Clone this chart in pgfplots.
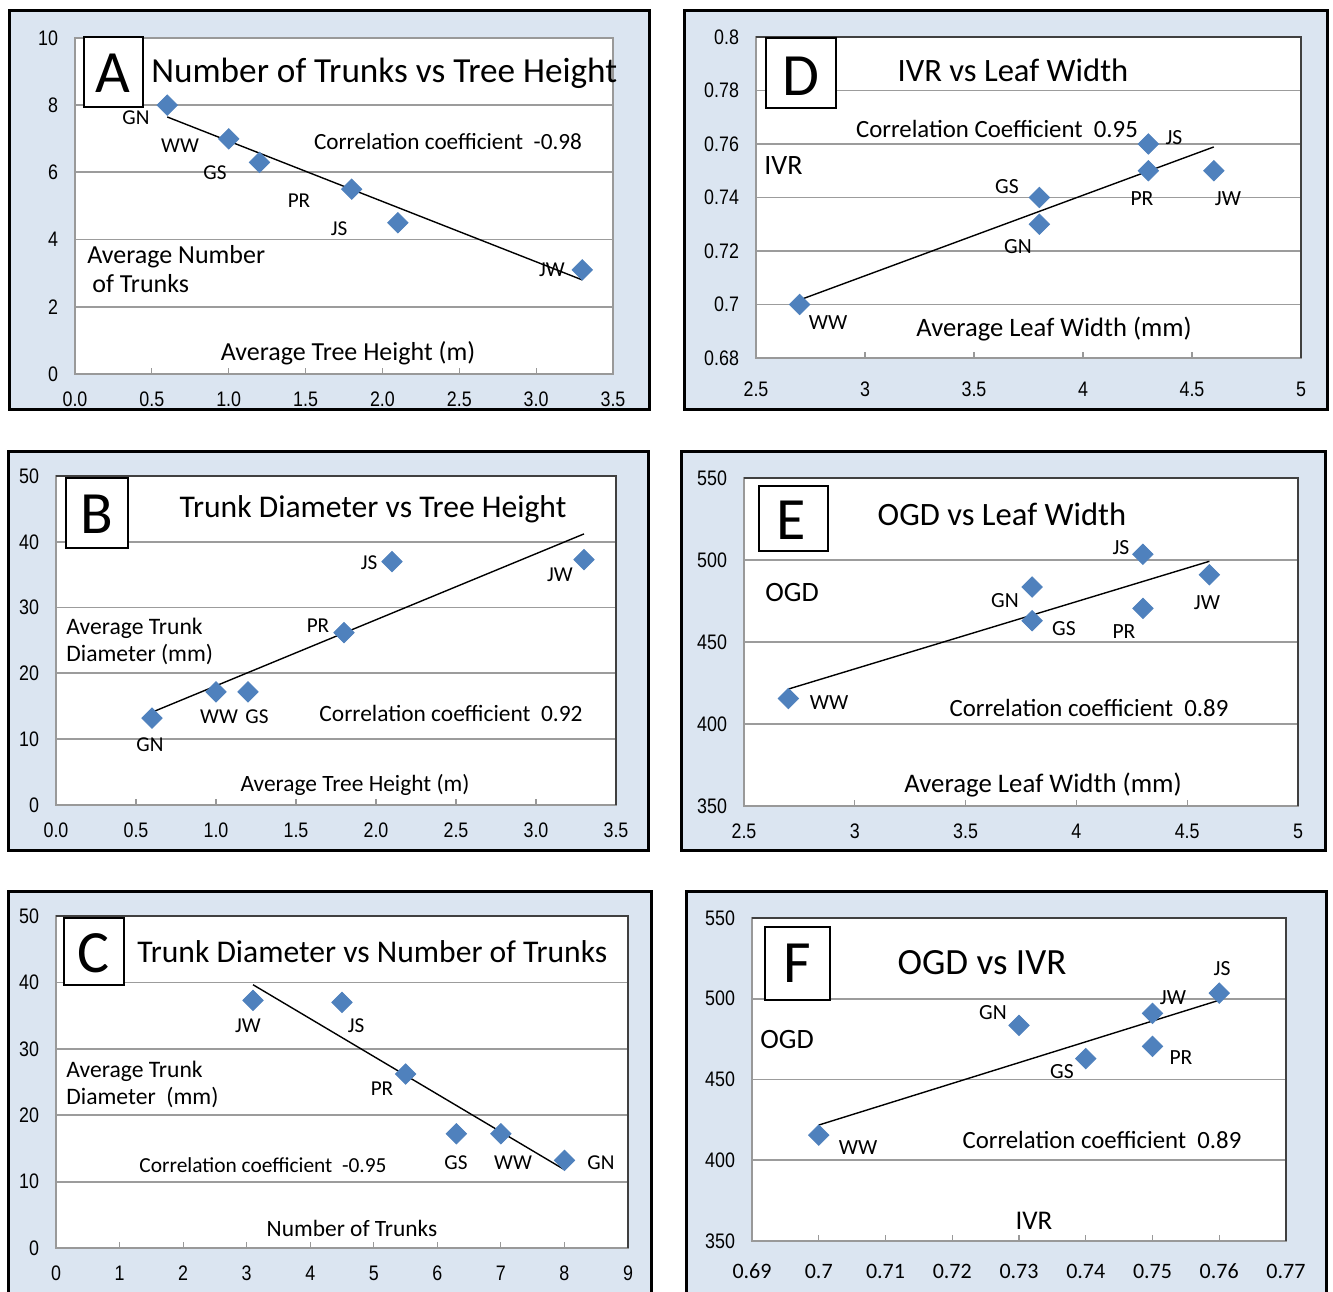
\documentclass[border=0pt]{standalone}
\usepackage{pgfplots}
\pgfplotsset{compat=1.18}
\usepackage{fontspec}
\setmainfont{Carlito}
\newfontfamily\tickfont{Liberation Sans}[FakeStretch=0.85]
\definecolor{panelbg}{HTML}{DBE5F1}
\definecolor{markblue}{HTML}{4F81BD}
\definecolor{gridgray}{HTML}{9C9C9C}
\newcommand{\fs}[1]{\fontsize{#1}{#1}\selectfont}
\pgfplotsset{
  panel/.style={
    scale only axis, anchor=south west, clip=false,
    axis background/.style={fill=white},
    axis line style={draw=gray!80, line width=0.6pt},
    ymajorgrids, grid style={draw=gridgray, line width=0.9pt},
    xtick pos=bottom, ytick pos=left,
    tick align=inside, major tick length=3pt,
    xtick style={draw=gray!80, line width=0.6pt},
    ytick style={draw=none},
    tick label style={font=\tickfont\fs{10.5}},
    yticklabel style={xshift=-5pt},
    xticklabel style={yshift=-5.5pt},
  },
  dia/.style={only marks, mark=square*, mark size=3.6pt,
    mark options={rotate=45, fill=markblue, draw=markblue}, color=markblue},
  trend/.style={black, line width=0.7pt, no marks},
}
\begin{document}
\begin{tikzpicture}[x=0.5pt,y=0.5pt]
\clip (0,0) rectangle (1333,1291);
\fill[white] (0,0) rectangle (1333,1291);
% panel backgrounds
\filldraw[fill=panelbg, draw=black, line width=1.5pt] (9,1291-11) rectangle (649,1291-410);
\filldraw[fill=panelbg, draw=black, line width=1.5pt] (684,1291-11) rectangle (1327,1291-410);
\filldraw[fill=panelbg, draw=black, line width=1.5pt] (8,1291-452) rectangle (648,1291-851);
\filldraw[fill=panelbg, draw=black, line width=1.5pt] (681,1291-452) rectangle (1325,1291-851);
\filldraw[fill=panelbg, draw=black, line width=1.5pt] (8,1291-892) rectangle (651,1291-1310);
\filldraw[fill=panelbg, draw=black, line width=1.5pt] (686,1291-892) rectangle (1326,1291-1310);

% ---------- A ----------
\begin{axis}[panel, at={(37.5pt,458.5pt)}, width=269pt, height=168pt,
  xmin=0, xmax=3.5, ymin=0, ymax=10,
  xtick={0,0.5,1,1.5,2,2.5,3,3.5}, xticklabels={0.0,0.5,1.0,1.5,2.0,2.5,3.0,3.5},
  ytick={0,2,4,6,8,10}, yticklabels={0,2,4,6,8,10}]
\addplot[dia] coordinates {(0.6,8.0)(1.0,7.0)(1.2,6.3)(1.8,5.5)(2.1,4.5)(3.3,3.1)};
\addplot[trend] coordinates {(0.6,7.65)(3.3,2.80)};
\end{axis}

% ---------- D ----------
\begin{axis}[panel, at={(378pt,466.5pt)}, width=272.5pt, height=160.5pt,
  xmin=2.5, xmax=5, ymin=0.68, ymax=0.8,
  xtick={2.5,3,3.5,4,4.5,5}, xticklabels={2.5,3,3.5,4,4.5,5},
  ytick={0.68,0.7,0.72,0.74,0.76,0.78,0.8}, yticklabels={0.68,0.7,0.72,0.74,0.76,0.78,0.8},
  xticklabel style={yshift=-3pt}]
\addplot[dia] coordinates {(2.7,0.70)(3.8,0.74)(3.8,0.73)(4.3,0.76)(4.3,0.75)(4.6,0.75)};
\addplot[trend] coordinates {(2.7,0.7017)(4.6,0.7589)};
\draw[black!75, line width=0.8pt] (rel axis cs:0,1) -- (rel axis cs:1,1) -- (rel axis cs:1,0);
\end{axis}

% ---------- B ----------
\begin{axis}[panel, at={(28pt,243pt)}, width=280pt, height=164.5pt,
  xmin=0, xmax=3.5, ymin=0, ymax=50,
  xtick={0,0.5,1,1.5,2,2.5,3,3.5}, xticklabels={0.0,0.5,1.0,1.5,2.0,2.5,3.0,3.5},
  ytick={0,10,20,30,40,50}, yticklabels={0,10,20,30,40,50}]
\addplot[dia] coordinates {(0.6,13.2)(1.0,17.2)(1.2,17.2)(1.8,26.2)(2.1,37.0)(3.3,37.3)};
\addplot[trend] coordinates {(0.6,14.1)(3.3,41.2)};
\draw[black!75, line width=0.8pt] (rel axis cs:0,1) -- (rel axis cs:1,1) -- (rel axis cs:1,0);
\end{axis}

% ---------- E ----------
\begin{axis}[panel, at={(372pt,242.5pt)}, width=277pt, height=164pt,
  xmin=2.5, xmax=5, ymin=350, ymax=550,
  xtick={2.5,3,3.5,4,4.5,5}, xticklabels={2.5,3,3.5,4,4.5,5},
  ytick={350,400,450,500,550}, yticklabels={350,400,450,500,550}]
\addplot[dia] coordinates {(2.7,415.5)(3.8,483.5)(3.8,463)(4.3,503.5)(4.3,470.5)(4.6,491)};
\addplot[trend] coordinates {(2.7,421.3)(4.6,499.2)};
\draw[black!75, line width=0.8pt] (rel axis cs:0,1) -- (rel axis cs:1,1) -- (rel axis cs:1,0);
\end{axis}

% ---------- C ----------
\begin{axis}[panel, at={(28pt,21.5pt)}, width=286pt, height=166pt,
  xmin=0, xmax=9, ymin=0, ymax=50,
  xtick={0,1,2,3,4,5,6,7,8,9}, xticklabels={0,1,2,3,4,5,6,7,8,9},
  ytick={0,10,20,30,40,50}, yticklabels={0,10,20,30,40,50}]
\addplot[dia] coordinates {(8,13.2)(7,17.2)(6.3,17.2)(5.5,26.2)(4.5,37.0)(3.1,37.3)};
\addplot[trend] coordinates {(3.1,39.65)(8,11.8)};
\draw[black!75, line width=0.8pt] (rel axis cs:0,1) -- (rel axis cs:1,1) -- (rel axis cs:1,0);
\end{axis}

% ---------- F ----------
\begin{axis}[panel, at={(376pt,25pt)}, width=267pt, height=161.5pt,
  xmin=0.69, xmax=0.77, ymin=350, ymax=550,
  xtick={0.69,0.7,0.71,0.72,0.73,0.74,0.75,0.76,0.77},
  xticklabels={0.69,0.7,0.71,0.72,0.73,0.74,0.75,0.76,0.77},
  ytick={350,400,450,500,550}, yticklabels={350,400,450,500,550},
  xticklabel style={yshift=-2.5pt, font=\fs{11}}]
\addplot[dia] coordinates {(0.70,415.5)(0.73,483.5)(0.74,463)(0.76,503.5)(0.75,470.5)(0.75,491)};
\addplot[trend] coordinates {(0.70,421.8)(0.76,499.1)};
\draw[black!75, line width=0.8pt] (rel axis cs:0,1) -- (rel axis cs:1,1) -- (rel axis cs:1,0);
\end{axis}

% ---------- annotations ----------
\begin{scope}[inner sep=0pt]
% A
\draw[fill=white, line width=0.8pt] (84,1291-37) rectangle (143,1291-107);
\node at (113,1291-73) {\fs{30}A};
\node[anchor=west] at (151,1291-73) {\fs{17.6}Number of Trunks vs Tree Height};
\node at (448,1291-142) {\fs{11.6}Correlation coefficient~~-0.98};
\node at (136,1291-118) {\fs{10.6}GN};
\node at (180,1291-146) {\fs{10.6}WW};
\node at (215,1291-173) {\fs{10.6}GS};
\node at (299,1291-201) {\fs{10.6}PR};
\node at (339,1291-229) {\fs{10.6}JS};
\node at (552,1291-270) {\fs{10.6}JW};
\node[anchor=west] at (87,1291-257) {\fs{13}Average Number};
\node[anchor=west] at (92,1291-284) {\fs{13}of Trunks};
\node at (348,1291-353) {\fs{13}Average Tree Height (m)};
% D
\draw[fill=white, line width=0.8pt] (766,1291-38) rectangle (836,1291-108);
\node at (801,1291-76) {\fs{30}D};
\node at (1013,1291-70) {\fs{16.3}IVR vs Leaf Width};
\node at (997,1291-129) {\fs{12.4}Correlation Coefficient~~0.95};
\node at (1174,1291-138) {\fs{10.8}JS};
\node at (1007,1291-187) {\fs{10.8}GS};
\node at (1142,1291-199) {\fs{10.8}PR};
\node at (1228,1291-199) {\fs{10.8}JW};
\node at (1018,1291-247) {\fs{10.8}GN};
\node at (828,1291-323) {\fs{10.8}WW};
\node[anchor=west] at (764,1291-166) {\fs{14}IVR};
\node at (1054,1291-329) {\fs{13.3}Average Leaf Width (mm)};
% B
\draw[fill=white, line width=0.8pt] (66,1291-478) rectangle (128,1291-548);
\node at (97,1291-514) {\fs{30}B};
\node at (373,1291-509) {\fs{15.8}Trunk Diameter vs Tree Height};
\node at (369,1291-563) {\fs{10.6}JS};
\node at (560,1291-575) {\fs{10.6}JW};
\node at (318,1291-626) {\fs{10.6}PR};
\node at (219,1291-717) {\fs{10.6}WW};
\node at (257,1291-717) {\fs{10.6}GS};
\node at (150,1291-745) {\fs{10.6}GN};
\node[anchor=west] at (66,1291-628) {\fs{11.8}Average Trunk};
\node[anchor=west] at (66,1291-655) {\fs{11.8}Diameter (mm)};
\node at (451,1291-713) {\fs{11.7}Correlation coefficient~~0.92};
\node at (355,1291-785) {\fs{11.7}Average Tree Height (m)};
% E
\draw[fill=white, line width=0.8pt] (759,1291-486) rectangle (828,1291-551);
\node at (791,1291-520) {\fs{30}E};
\node at (1002,1291-514) {\fs{16.3}OGD vs Leaf Width};
\node at (1121,1291-548) {\fs{10.8}JS};
\node at (1005,1291-601) {\fs{10.8}GN};
\node at (1064,1291-629) {\fs{10.8}GS};
\node at (1124,1291-632) {\fs{10.8}PR};
\node at (1207,1291-603) {\fs{10.8}JW};
\node at (829,1291-703) {\fs{10.8}WW};
\node[anchor=west] at (765,1291-593) {\fs{14}OGD};
\node at (1089,1291-708) {\fs{12.4}Correlation coefficient~~0.89};
\node at (1043,1291-785) {\fs{13.4}Average Leaf Width (mm)};
% C
\draw[fill=white, line width=0.8pt] (64,1291-918) rectangle (124,1291-985);
\node at (93,1291-953) {\fs{30}C};
\node[anchor=west] at (137,1291-952) {\fs{15.8}Trunk Diameter vs Number of Trunks};
\node at (248,1291-1026) {\fs{10.6}JW};
\node at (356,1291-1026) {\fs{10.6}JS};
\node at (382,1291-1089) {\fs{10.6}PR};
\node at (456,1291-1163) {\fs{10.6}GS};
\node at (513,1291-1163) {\fs{10.6}WW};
\node at (601,1291-1163) {\fs{10.6}GN};
\node[anchor=west] at (66,1291-1071) {\fs{11.8}Average Trunk};
\node[anchor=west] at (66,1291-1098) {\fs{11.8}Diameter~~(mm)};
\node at (263,1291-1165) {\fs{10.7}Correlation coefficient~~-0.95};
\node at (352,1291-1228) {\fs{11.7}Number of Trunks};
% F
\draw[fill=white, line width=0.8pt] (765,1291-927) rectangle (830,1291-1000);
\node at (797,1291-963) {\fs{30}F};
\node at (982,1291-963) {\fs{18.5}OGD vs IVR};
\node at (1222,1291-969) {\fs{10.8}JS};
\node at (1173,1291-998) {\fs{10.8}JW};
\node at (993,1291-1013) {\fs{10.8}GN};
\node at (1181,1291-1058) {\fs{10.8}PR};
\node at (1062,1291-1072) {\fs{10.8}GS};
\node at (858,1291-1148) {\fs{10.8}WW};
\node[anchor=west] at (760,1291-1040) {\fs{14}OGD};
\node at (1102,1291-1140) {\fs{12.4}Correlation coefficient~~0.89};
\node at (1034,1291-1221) {\fs{13.5}IVR};
\end{scope}
\end{tikzpicture}
\end{document}
